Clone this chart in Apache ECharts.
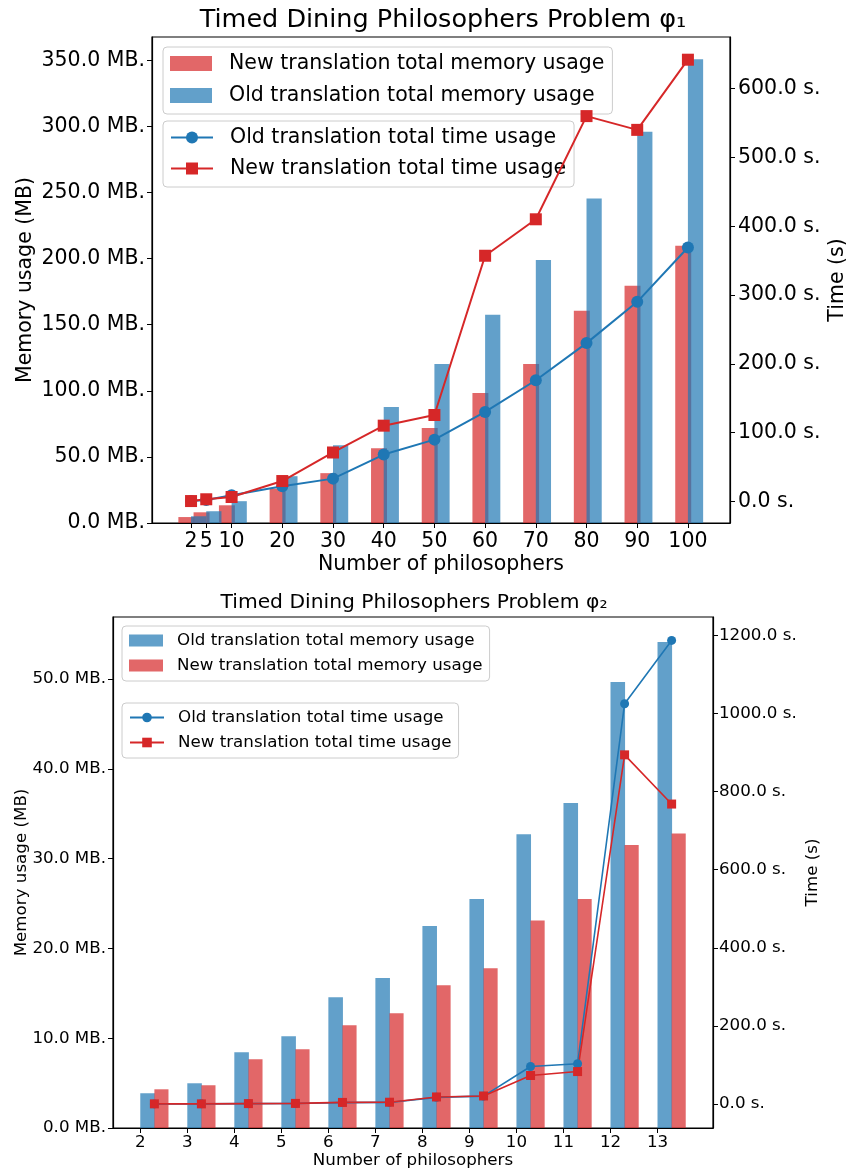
<!DOCTYPE html>
<html>
<head>
<meta charset="utf-8">
<script src="https://cdn.jsdelivr.net/npm/echarts@6/dist/echarts.min.js"></script>
<style>
  html, body { margin: 0; padding: 0; background: #fff; }
  #chart { width: 846px; height: 1174px; }
</style>
</head>
<body>
<div id="chart"></div>
<script>
// ---- Problem φ1: memory (MB) and time (s) per number of philosophers ----
const phil1 = [2, 5, 10, 20, 30, 40, 50, 60, 70, 80, 90, 100];
const newMem1 = [4.5, 8.1, 13.4, 26, 37.7, 56.6, 71.8, 98.3, 120.3, 160.5, 179.5, 209.8];
const oldMem1 = [5.1, 8.9, 16.5, 35.4, 58.9, 87.7, 120.3, 157.5, 199, 245.4, 296, 350.8];
const oldTime1 = [0.5, 2, 8.7, 21.8, 33, 68, 89.7, 130, 176, 230, 290, 369];
const newTime1 = [0.4, 3, 6.3, 29.5, 71, 110, 125.5, 357, 410, 560, 540, 642];
const memTicks1 = [0, 50, 100, 150, 200, 250, 300, 350];
const timeTicks1 = [0, 100, 200, 300, 400, 500, 600];

// ---- Problem φ2 ----
const phil2 = [2, 3, 4, 5, 6, 7, 8, 9, 10, 11, 12, 13];
const oldMem2 = [3.87, 4.98, 8.44, 10.22, 14.56, 16.7, 22.48, 25.5, 32.7, 36.2, 49.67, 54.12];
const newMem2 = [4.31, 4.76, 7.66, 8.77, 11.44, 12.78, 15.9, 17.8, 23.1, 25.5, 31.5, 32.8];
const oldTime2 = [0.2, 0.3, 0.8, 1.2, 3.5, 4, 17, 20, 96, 103, 1025, 1187];
const newTime2 = [0.3, 0.3, 1, 1.5, 4, 4.5, 18, 20.5, 73, 83, 894, 768];
const memTicks2 = [0, 10, 20, 30, 40, 50];
const timeTicks2 = [0, 200, 400, 600, 800, 1000, 1200];

const NAME_OLD_MEM = 'Old translation total memory usage';
const NAME_NEW_MEM = 'New translation total memory usage';
const NAME_OLD_TIME = 'Old translation total time usage';
const NAME_NEW_TIME = 'New translation total time usage';

const BLUE = '#1f77b4';
const RED = '#d62728';
const BLUE_BAR = 'rgba(31,119,180,0.7)';
const RED_BAR = 'rgba(214,39,40,0.7)';
const FONT = 'DejaVu Sans';

// Bars drawn as rectangles spanning [x+lo, x+hi] on a numeric x axis
function barSeries(name, xs, vals, color, lo, hi, axisIdx) {
  return {
    type: 'custom',
    name: name,
    xAxisIndex: axisIdx,
    yAxisIndex: axisIdx * 2,
    itemStyle: { color: color },
    encode: { x: 0, y: 1 },
    data: xs.map((x, i) => [x, vals[i]]),
    renderItem: function (params, api) {
      const x = api.value(0), v = api.value(1);
      const a = api.coord([x + lo, v]);
      const b = api.coord([x + hi, 0]);
      return {
        type: 'rect',
        shape: { x: a[0], y: a[1], width: b[0] - a[0], height: b[1] - a[1] },
        style: { fill: color }
      };
    },
    z: 2,
    animation: false
  };
}

function lineSeries(name, xs, vals, shift, color, symbol, size, width, axisIdx) {
  return {
    type: 'line',
    name: name,
    xAxisIndex: axisIdx,
    yAxisIndex: axisIdx * 2 + 1,
    data: xs.map((x, i) => [x + shift, vals[i]]),
    symbol: symbol,
    symbolSize: size,
    showSymbol: true,
    itemStyle: { color: color, opacity: 1 },
    lineStyle: { color: color, width: width },
    emphasis: { disabled: true },
    z: 5,
    animation: false
  };
}

function valueAxisX(grid, min, max, ticks, fs, name, gap, margin) {
  return {
    type: 'value', gridIndex: grid, min: min, max: max,
    axisLine: { show: true, onZero: false, lineStyle: { color: '#000', width: 1.2 } },
    axisTick: { show: true, customValues: ticks, length: 5, lineStyle: { color: '#000' } },
    axisLabel: { customValues: ticks, color: '#000', fontSize: fs, fontFamily: FONT, margin: margin },
    splitLine: { show: false },
    name: name, nameLocation: 'middle', nameGap: gap, nameMoveOverlap: false,
    nameTextStyle: { color: '#000', fontSize: fs, fontFamily: FONT }
  };
}

function valueAxisY(grid, pos, min, max, ticks, fmt, fs, name, gap, margin) {
  return {
    type: 'value', gridIndex: grid, position: pos, min: min, max: max,
    axisLine: { show: true, onZero: false, lineStyle: { color: '#000', width: 1.2 } },
    axisTick: { show: true, customValues: ticks, length: 5, lineStyle: { color: '#000' } },
    axisLabel: { customValues: ticks, color: '#000', fontSize: fs, fontFamily: FONT, margin: margin, formatter: fmt },
    splitLine: { show: false },
    name: name, nameLocation: 'middle', nameGap: gap, nameRotate: 90, nameMoveOverlap: false,
    nameTextStyle: { color: '#000', fontSize: fs, fontFamily: FONT }
  };
}

const mbFmt = v => v.toFixed(1) + ' MB.';
const sFmt = v => v.toFixed(1) + ' s.';

function legendBox(left, top, names, icon, fs, iw, ih, gap, textPad, pad) {
  const lg = {
    orient: 'vertical', left: left, top: top,
    data: names,
    itemWidth: iw, itemHeight: ih, itemGap: gap,
    padding: pad,
    backgroundColor: 'rgba(255,255,255,0.8)',
    borderColor: '#cccccc', borderWidth: 1, borderRadius: 4,
    selectedMode: false,
    textStyle: { color: '#000', fontSize: fs, fontFamily: FONT, padding: [0, 0, 0, textPad] }
  };
  if (icon) lg.icon = icon;
  return lg;
}

const chart = echarts.init(document.getElementById('chart'), null, { renderer: 'canvas' });

chart.setOption({
  animation: false,
  backgroundColor: '#fff',
  title: [
    { text: 'Timed Dining Philosophers Problem φ₁', left: 443, top: 7, textAlign: 'center', padding: 0,
      textStyle: { color: '#000', fontSize: 25.5, fontWeight: 'normal', fontFamily: FONT } },
    { text: 'Timed Dining Philosophers Problem φ₂', left: 414, top: 593, textAlign: 'center', padding: 0,
      textStyle: { color: '#000', fontSize: 20.3, fontWeight: 'normal', fontFamily: FONT } }
  ],
  grid: [
    { left: 152, top: 37, width: 578, height: 486, outerBoundsMode: 'none', containLabel: false,
      show: true, borderColor: '#000', borderWidth: 1.2, backgroundColor: 'transparent' },
    { left: 113, top: 617, width: 600, height: 511, outerBoundsMode: 'none', containLabel: false,
      show: true, borderColor: '#000', borderWidth: 1.2, backgroundColor: 'transparent' }
  ],
  xAxis: [
    valueAxisX(0, -5.7, 108.3, phil1, 20.5, 'Number of philosophers', 31, 8),
    valueAxisX(1, 1.42, 14.18, phil2, 16.7, 'Number of philosophers', 24, 6)
  ],
  yAxis: [
    valueAxisY(0, 'left', 0, 367.6, memTicks1, mbFmt, 20.5, 'Memory usage (MB)', 116, 7),
    valueAxisY(0, 'right', -31.5, 675, timeTicks1, sFmt, 20.5, 'Time (s)', 97, 8),
    valueAxisY(1, 'left', 0, 56.9, memTicks2, mbFmt, 16.7, 'Memory usage (MB)', 83, 7),
    valueAxisY(1, 'right', -61.5, 1247, timeTicks2, sFmt, 16.7, 'Time (s)', 91, 6)
  ],
  legend: [
    legendBox(163, 47, [NAME_NEW_MEM, NAME_OLD_MEM], 'rect', 20.5, 42, 15, 11, 12, [6, 8, 8, 7]),
    legendBox(163, 121, [NAME_OLD_TIME, NAME_NEW_TIME], null, 20.5, 42, 15, 10, 12, [6, 8, 8, 7]),
    legendBox(122, 626, [NAME_OLD_MEM, NAME_NEW_MEM], 'rect', 16.7, 34, 12, 8, 9, [6, 7, 7, 7]),
    legendBox(122, 703, [NAME_OLD_TIME, NAME_NEW_TIME], null, 16.7, 34, 12, 8, 9, [6, 7, 7, 7])
  ],
  series: [
    barSeries(NAME_NEW_MEM, phil1, newMem1, RED_BAR, -2.5, 0.65, 0),
    barSeries(NAME_OLD_MEM, phil1, oldMem1, BLUE_BAR, 0, 3, 0),
    lineSeries(NAME_OLD_TIME, phil1, oldTime1, 0, BLUE, 'circle', 12, 2, 0),
    lineSeries(NAME_NEW_TIME, phil1, newTime1, 0, RED, 'rect', 12, 2, 0),

    barSeries(NAME_OLD_MEM, phil2, oldMem2, BLUE_BAR, 0, 0.31, 1),
    barSeries(NAME_NEW_MEM, phil2, newMem2, RED_BAR, 0.3, 0.6, 1),
    lineSeries(NAME_OLD_TIME, phil2, oldTime2, 0.3, BLUE, 'circle', 9, 1.6, 1),
    lineSeries(NAME_NEW_TIME, phil2, newTime2, 0.3, RED, 'rect', 9, 1.6, 1)
  ]
});
</script>
</body>
</html>
